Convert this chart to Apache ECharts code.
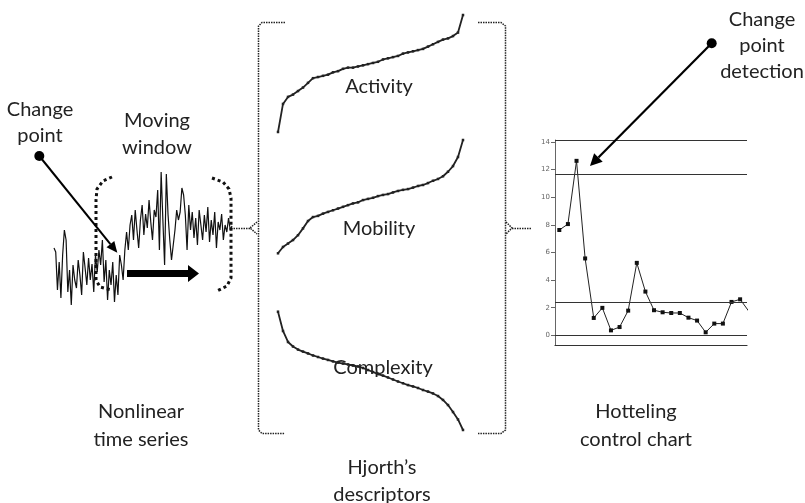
<!DOCTYPE html>
<html>
<head>
<meta charset="utf-8">
<script src="https://cdn.jsdelivr.net/npm/echarts@6/dist/echarts.min.js"></script>
<style>html,body{margin:0;padding:0;background:#fff}#c{width:805px;height:503px}</style>
</head>
<body>
<div id="c"></div>
<script>
// ---- data ----
const timeSeries = [62,58,20,48,12,55,80,70,18,40,5,45,30,22,50,35,15,58,42,25,52,30,46,18,55,38,60,45,70,28,50,10,40,25,48,8,
  35,15,55,45,30,60,
  78,60,85,95,70,100,80,62,90,105,75,96,82,110,88,70,100,93,120,60,138,90,45,136,95,70,50,48,80,100,
  90,98,122,115,95,60,105,80,98,72,92,65,100,85,70,95,78,103,68,90,75,98,62,88,80,96,70,85,78,92,80,84];
const activity = [0,0.24,0.30,0.32,0.35,0.38,0.42,0.46,0.47,0.48,0.49,0.51,0.52,0.54,0.55,0.55,0.56,0.57,0.58,0.59,0.60,0.62,0.63,0.64,0.65,0.67,0.68,0.69,0.70,0.71,0.73,0.75,0.77,0.79,0.80,0.82,0.85,1.0];
const mobility = [0,0.056,0.086,0.117,0.16,0.22,0.285,0.32,0.33,0.35,0.365,0.38,0.395,0.41,0.425,0.44,0.45,0.47,0.48,0.49,0.505,0.515,0.523,0.537,0.55,0.56,0.567,0.58,0.594,0.603,0.62,0.64,0.656,0.68,0.72,0.77,0.85,1.0];
const complexity = [1.0,0.837,0.744,0.706,0.68,0.663,0.647,0.63,0.617,0.604,0.592,0.58,0.57,0.562,0.554,0.545,0.537,0.524,0.507,0.49,0.473,0.46,0.444,0.427,0.41,0.395,0.38,0.368,0.355,0.338,0.325,0.309,0.287,0.254,0.211,0.152,0.089,0];
const t2Values = [7.63,8.06,12.64,5.57,1.26,1.99,0.36,0.6,1.79,5.25,3.17,1.82,1.67,1.62,1.62,1.28,1.07,0.22,0.85,0.85,2.42,2.61,1.75];
const controlLimits = [14.15, 11.7, 2.4, 0];
const yTickLabels = [0,2,4,6,8,10,12,14];

// ---- chart ----
const chart = echarts.init(document.getElementById('c'), null, {renderer:'canvas'});
const idx = arr => arr.map((v,i)=>[i,v]);
const ctlData = t2Values.map((v,i)=>[i+1,v]);
const hidden = {show:false};
const curveAxis = (g, n) => ({gridIndex:g, type:'value', min:0, max:n-1, show:false});
const fontTxt = '20px Lato';
const txtCol = '#222';
function text(t, x, y, lh){ return {type:'text', z:10, style:{text:t, x:x, y:y, align:'center', verticalAlign:'middle', font:fontTxt, fill:txtCol, lineHeight:lh||26}}; }
function dotted(points, w, dash, col){ return {type:'polyline', z:5, shape:{points:points}, style:{stroke:col||'#222', lineWidth:w, lineDash:dash, fill:null}}; }

const option = {
  animation:false,
  backgroundColor:'#fff',
  grid:[
    {left:54, top:170, width:178, height:140},
    {left:278, top:15, width:185, height:117},
    {left:278, top:140, width:185, height:113.3},
    {left:278, top:311.7, width:185, height:118.3},
    {left:555, top:140, width:192, height:205}
  ],
  xAxis:[
    {gridIndex:0, type:'value', min:0, max:timeSeries.length-1, show:false},
    curveAxis(1, activity.length),
    curveAxis(2, mobility.length),
    curveAxis(3, complexity.length),
    {gridIndex:4, type:'value', min:0.5, max:22.8, axisLine:{show:true, onZero:false, lineStyle:{color:'#333', width:1.2}}, axisTick:hidden, axisLabel:hidden, splitLine:hidden}
  ],
  yAxis:[
    {gridIndex:0, type:'value', min:0, max:140, show:false},
    {gridIndex:1, type:'value', min:0, max:1, show:false},
    {gridIndex:2, type:'value', min:0, max:1, show:false},
    {gridIndex:3, type:'value', min:0, max:1, show:false},
    {gridIndex:4, type:'value', min:-0.7, max:14.15,
      axisLine:{show:true, lineStyle:{color:'#666', width:1}},
      axisTick:{show:true, length:4, customValues:yTickLabels, lineStyle:{color:'#666'}},
      axisLabel:{show:true, customValues:yTickLabels, fontSize:7, color:'#666', margin:5, fontFamily:'DejaVu Sans'},
      splitLine:hidden}
  ],
  series:[
    {type:'line', xAxisIndex:0, yAxisIndex:0, data:idx(timeSeries), showSymbol:false, lineStyle:{color:'#111', width:1.2}},
    {type:'line', xAxisIndex:1, yAxisIndex:1, data:idx(activity), symbol:'rect', symbolSize:2.5, itemStyle:{color:'#222'}, lineStyle:{color:'#222', width:1.8}},
    {type:'line', xAxisIndex:2, yAxisIndex:2, data:idx(mobility), symbol:'rect', symbolSize:2.5, itemStyle:{color:'#222'}, lineStyle:{color:'#222', width:1.8}},
    {type:'line', xAxisIndex:3, yAxisIndex:3, data:idx(complexity), symbol:'rect', symbolSize:2.5, itemStyle:{color:'#222'}, lineStyle:{color:'#222', width:1.8}},
    {type:'line', xAxisIndex:4, yAxisIndex:4, data:ctlData, symbol:'rect', symbolSize:4, itemStyle:{color:'#111'}, lineStyle:{color:'#222', width:1}, clip:true,
      markLine:{silent:true, symbol:'none', label:{show:false}, lineStyle:{color:'#333', width:1.2, type:'solid'},
        data:controlLimits.map(v=>({yAxis:v}))}}
  ],
  graphic:[
    // labels
    text('Change\npoint', 40, 123, 26),
    text('Moving\nwindow', 157, 134.5, 27),
    text('Activity', 379, 87),
    text('Mobility', 379, 229),
    text('Complexity', 383, 368),
    text('Nonlinear\ntime series', 141, 426, 28),
    text('Hjorth\u2019s\ndescriptors', 382, 481.5, 27),
    text('Hotteling\ncontrol chart', 636, 426, 28),
    text('Change\npoint\ndetection', 762, 46, 26),
    // big braces
    dotted([[285,22.5],[262,22.5],[258.5,26],[258.5,430],[262,433.5],[285,433.5]], 1.5, [1.5,1]),
    dotted([[257,222],[250,228],[257,234]], 1.5, [1.5,1]),
    dotted([[231,228.5],[250,228.5]], 1.5, [1.5,1]),
    dotted([[478,22.5],[501,22.5],[505.5,26],[505.5,430],[501,433.5],[478,433.5]], 1.5, [1.5,1]),
    dotted([[506,222],[512,228],[506,234]], 1.5, [1.5,1]),
    dotted([[512,228.5],[532,228.5]], 1.5, [1.5,1]),
    // moving window brackets
    dotted([[112,177],[103,181],[97,189],[96,200],[96,280],[100,287],[112,290]], 3, [3,3], '#111'),
    dotted([[212,178],[223,182],[229,189],[231,198],[231,278],[227,286],[217,291]], 3, [3,3], '#111'),
    // thick moving arrow
    {type:'polygon', z:6, shape:{points:[[127,270],[188,270],[188,265],[199,273.5],[188,282],[188,277],[127,277]]}, style:{fill:'#000'}},
    // change point arrow
    {type:'circle', z:6, shape:{cx:39.3, cy:156, r:5}, style:{fill:'#000'}},
    {type:'line', z:6, shape:{x1:39.3, y1:156, x2:110.4, y2:244.1}, style:{stroke:'#000', lineWidth:2}},
    {type:'polygon', z:6, shape:{points:[[117.3,252.7],[106.5,247.2],[114.3,241.0]]}, style:{fill:'#000'}},
    // detection arrow
    {type:'circle', z:6, shape:{cx:711.7, cy:43.3, r:5}, style:{fill:'#000'}},
    {type:'line', z:6, shape:{x1:711.7, y1:43.3, x2:598.4, y2:157.5}, style:{stroke:'#000', lineWidth:2.2}},
    {type:'polygon', z:6, shape:{points:[[590,166],[602.7,161.7],[594.1,153.3]]}, style:{fill:'#000'}}
  ]
};
chart.setOption(option);
</script>
</body>
</html>
